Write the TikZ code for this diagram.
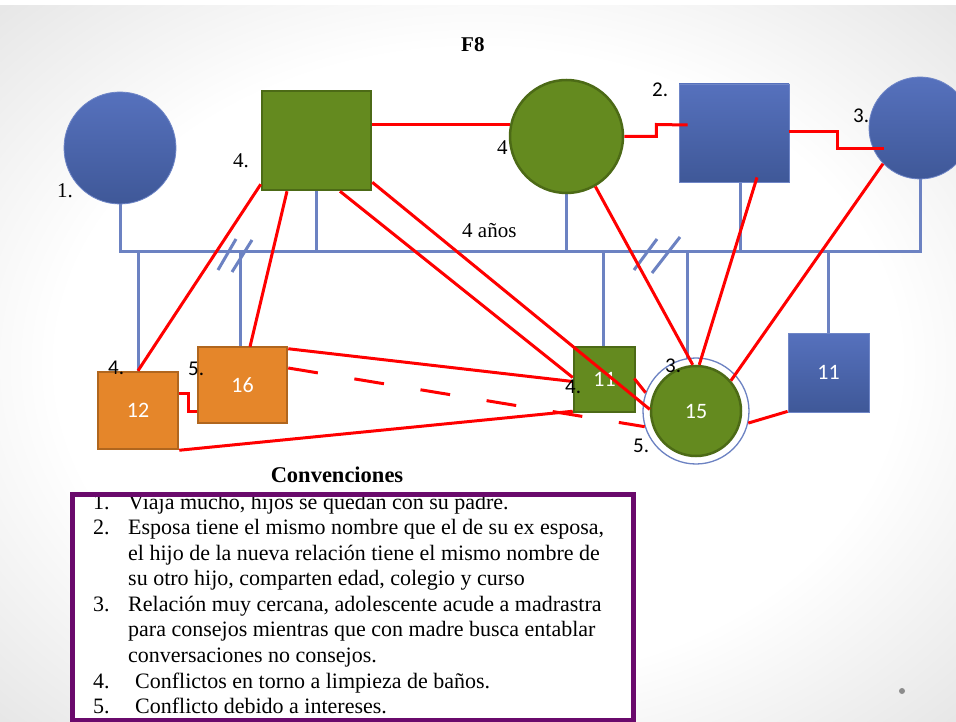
\documentclass[tikz,border=0pt]{standalone}
\usepackage{fontspec}
\setmainfont{Liberation Serif}
\newfontfamily\calib{Carlito}
\usetikzlibrary{calc}
\pgfdeclareradialshading{bgshade}{\pgfpoint{0bp}{0bp}}{color(0bp)=(white); color(22bp)=(white); color(50bp)=(black!20); color(71bp)=(black!28)}
\definecolor{kinblue}{HTML}{6C82C2}
\definecolor{relred}{HTML}{FF0000}
\definecolor{gfill}{HTML}{648A1F}
\definecolor{gdraw}{HTML}{4C6A16}
\definecolor{ofill}{HTML}{E5862A}
\definecolor{odraw}{HTML}{B0661E}
\definecolor{btop}{HTML}{5671BD}
\definecolor{bbot}{HTML}{3F5898}
\definecolor{legpurple}{HTML}{6A0A6C}
\tikzset{
  bluecirc/.style={circle, draw=btop!85!white, line width=0.8pt, top color=btop, bottom color=bbot, inner sep=0pt, minimum size=#1},
  bluesq/.style 2 args={rectangle, draw=btop!85!white, line width=0.8pt, top color=btop, bottom color=bbot, inner sep=0pt, minimum width=#1, minimum height=#2},
  greencirc/.style={circle, draw=gdraw, line width=2.5pt, fill=gfill, inner sep=0pt, minimum size=#1},
  greensq/.style 2 args={rectangle, draw=gdraw, line width=2.5pt, fill=gfill, inner sep=0pt, minimum width=#1, minimum height=#2},
  orangesq/.style 2 args={rectangle, draw=odraw, line width=2.5pt, fill=ofill, inner sep=0pt, minimum width=#1, minimum height=#2},
  kin/.style={draw=kinblue, line width=3pt},
  rel/.style={draw=relred, line width=3pt},
  numtxt/.style={text=white, font=\calib\fontsize{22}{22}\selectfont},
  slab/.style={inner sep=0pt, anchor=base west, font=\fontsize{21}{21}\selectfont},
  clab/.style={inner sep=0pt, anchor=base west, font=\calib\fontsize{21}{21}\selectfont},
  legtxt/.style={inner sep=0pt, anchor=base west, font=\fontsize{22}{22}\selectfont},
}
\begin{document}
\begin{tikzpicture}[x=1pt,y=-1pt]
% background
\useasboundingbox (0,0) rectangle (956,722);
\fill[white] (0,0) rectangle (956,722);
\shade[shading=bgshade] (0,6) rectangle (956,722);

% title
\node[inner sep=0pt, anchor=base west, font=\bfseries\fontsize{21}{21}\selectfont] (title) at (461,52) {F8};

\coordinate (bar) at (120,252);

% kinship lines (drawn first, behind the shapes)
\coordinate (c1b) at (120,204);
\coordinate (s4b) at (316.5,190);
\coordinate (cgb) at (566.5,193);
\coordinate (s2b) at (740,182);
\coordinate (c3b) at (920,179);
\draw[kin] (c1b) -- (c1b |- bar) -- (c3b |- bar) -- (c3b);
\draw[kin] (s4b) -- (s4b |- bar);
\draw[kin] (cgb) -- (cgb |- bar);
\draw[kin] (s2b) -- (s2b |- bar);
\coordinate (k12) at (138,372);
\coordinate (k16) at (240,347);
\coordinate (k11) at (603,347);
\coordinate (k15) at (687,359);
\coordinate (k11b) at (828.5,333);
\foreach \k in {k12,k16,k11,k15,k11b} \draw[kin] (\k) -- (\k |- bar);
% divorce marks
\draw[kin] (218,270) -- (236,239);
\draw[kin] (232,272) -- (252,240);
\draw[kin] (634,270) -- (657,239);
\draw[kin] (652,273) -- (680,237);

% people
\node[bluecirc=112] (c1) at (120,148) {};
\node[greensq={109}{99}] (s4) at (316.5,140.5) {};
\node[slab] (l4b) at (497,155) {4};
\node[greencirc=113] (cg) at (566.5,136.5) {};
\node[bluesq={110}{98}] (s2) at (734,133) {};
\node[bluecirc=102] (c3) at (920,128) {};
\node[orangesq={80}{77}, numtxt] (b12) at (138,410.5) {12};
\node[orangesq={89}{76}, numtxt] (b16) at (242.5,385) {16};
\node[greensq={61}{65}, numtxt] (s11) at (604.5,379.5) {11};
\node[circle, draw=kinblue, line width=1.3pt, minimum size=106, inner sep=0pt] (c15ring) at (696,411) {};
\node[greencirc=90, numtxt] (c15) at (696,411) {15};
\node[bluesq={81}{79}, numtxt] (s11b) at (828.5,372.5) {11};

% relationship lines
\draw[rel] (s4.east |- cg.168) -- (cg.168);
\draw[rel] (cg.east) -- ++(32,0) -- ++(0,-12) -- ($(s2.west)+(9,-8)$);
\draw[rel] ($(s2.east)+(0,-1)$) -- ++(48,0) -- ++(0,17) -- ($(c3.center)+(-36,21)$);
\draw[rel] ($(s4.south west)+(0,-7)$) -- (b12.north);
\draw[rel] ($(s4.south)+(-29.5,0)$) -- ($(b16.north)+(7.5,1)$);
\draw[rel] ($(s4.south)+(23.5,0)$) -- ($(s11.west)+(0,-2)$);
\draw[rel] ($(s4.south east)+(0,-9)$) -- (c15.178);
\draw[rel] (cg.-60) -- (c15.94);
\draw[rel] ($(s2.south)+(23,-5)$) -- (c15.86);
\draw[rel] (c3.224) -- (c15.41);
\draw[rel] ($(b16.north east)+(0,3)$) -- ($(s11.west)+(0,2)$);
\draw[rel, dash pattern=on 30pt off 37pt] ($(b16.east)+(0,-17)$) -- (c15ring.197);
\draw[rel] (b12.south east) -- ($(s11.south west)+(0,-2)$);
\draw[rel] ($(b12.east)+(0,-17)$) -- ++(9,0) |- ($(b16.south west)+(0,-13)$);
\draw[rel] (c15ring.-13) -- ($(s11b.south west)+(0,-1)$);
\draw[rel] ($(s11.east)+(-2,-1)$) -- (c15ring.160);

% labels
\node[slab] (l1) at (57,198) {1.};
\node[slab] (l4a) at (233,168) {4.};
\node[clab] (l2) at (652,97) {2.};
\node[clab] (l3a) at (853,123) {3.};
\node[slab] (lyrs) at (462,238) {4 años};
\node[clab] (l4c) at (108,374) {4.};
\node[clab] (l5a) at (188,375) {5.};
\node[clab] (l4d) at (565,393) {4.};
\node[clab] (l3b) at (665,372) {3.};
\node[clab] (l5b) at (633,452) {5.};

% legend
\node[inner sep=0pt, anchor=base, font=\bfseries\fontsize{22.5}{22.5}\selectfont] (conv) at (337,482) {Convenciones};
\fill[white] (72,494.5) rectangle (633.5,720);
\node[legtxt] (n1) at (93,509) {1.};
\node[legtxt] (t1) at (128,509) {Viaja mucho, hijos se quedan con su padre.};
\node[legtxt] (n2) at (93,534) {2.};
\node[legtxt] (t2a) at (128,534) {Esposa tiene el mismo nombre que el de su ex esposa,};
\node[legtxt] (t2b) at (128,560) {el hijo de la nueva relación tiene el mismo nombre de};
\node[legtxt] (t2c) at (128,585) {su otro hijo, comparten edad, colegio y curso};
\node[legtxt] (n3) at (93,611) {3.};
\node[legtxt] (t3a) at (128,611) {Relación muy cercana, adolescente acude a madrastra};
\node[legtxt] (t3b) at (128,636) {para consejos mientras que con madre busca entablar};
\node[legtxt] (t3c) at (128,662) {conversaciones no consejos.};
\node[legtxt] (n4) at (93,688) {4.};
\node[legtxt] (t4) at (135,688) {Conflictos en torno a limpieza de baños.};
\node[legtxt] (n5) at (93,713) {5.};
\node[legtxt] (t5) at (135,713) {Conflicto debido a intereses.};
\draw[legpurple, line width=5pt] (72,494.5) rectangle (633.5,720);

\fill[black!45] (902,691) circle (3);
\end{tikzpicture}
\end{document}
